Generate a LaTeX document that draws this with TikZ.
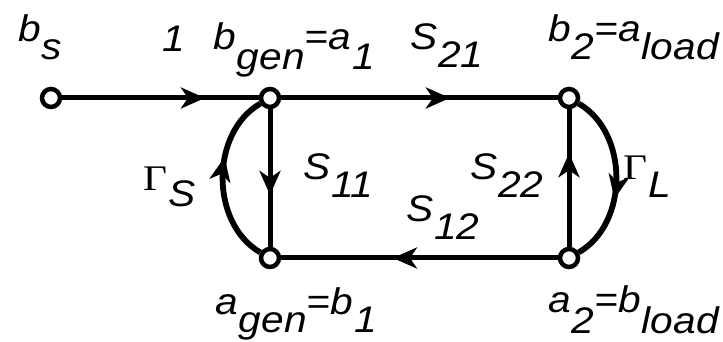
\documentclass[tikz,border=0pt]{standalone}
\usepackage{fontspec}
\setmainfont{Liberation Sans}[FakeStretch=1.1]
\newfontfamily\gamfont{Liberation Serif}[FakeStretch=1.15]
\usetikzlibrary{arrows.meta,decorations.markings}
\newcommand\sbx[2][18pt]{\kern1pt\raisebox{-#1}{#2}}
\begin{document}
\begin{tikzpicture}[x=1pt,y=1pt,
  sig/.style={circle, draw, fill=white, line width=4.5pt, minimum size=18pt, inner sep=0pt},
  lab/.style={anchor=base west, inner sep=0pt, font=\fontsize{37}{40}\selectfont\itshape},
  glab/.style={anchor=base west, inner sep=0pt, font=\fontsize{36}{40}\selectfont\gamfont},
  branch/.style={line width=5pt},
  loopb/.style={line width=5.8pt},
  midarr/.style={postaction={decorate}, decoration={markings,
     mark=at position #1 with {\arrow{Stealth[length=24pt,width=21pt,inset=7pt]}}}}]
\useasboundingbox (0,0) rectangle (723,342);
% signal nodes
\node[sig] (bs)   at (51,244) {};
\node[sig] (bgen) at (270,244) {};
\node[sig] (b2)   at (569,244) {};
\node[sig] (agen) at (270,84) {};
\node[sig] (a2)   at (569,84) {};
% branches
\draw[branch, midarr=0.726] (bs) -- (bgen);
\draw[branch, midarr=0.61] (bgen) -- (b2);
\draw[branch, midarr=0.623] (bgen) -- (agen);
\draw[branch, midarr=0.68] (a2) -- (b2);
\draw[branch, midarr=0.596] (a2) -- (agen);
\draw[loopb, midarr=0.62] (agen) to[bend left=60] (bgen);
\draw[loopb, midarr=0.62] (b2) to[bend left=60] (a2);
% labels
\node[lab] (lbs) at (18,300) {b\sbx{s}};
\node[lab] (l1) at (162,290) {1};
\node[lab] (lbgen) at (213,292) {b\sbx[20pt]{gen}=a\sbx[20pt]{1}};
\node[lab] (ls21) at (410,292) {S\sbx{21}};
\node[lab] (lb2) at (548,300) {b\sbx{2}=a\sbx{load}};
\node[glab] (lgs) at (143,151) {Γ\sbx[16pt]{\fontsize{37}{40}\selectfont\normalfont\itshape S}};
\node[lab] (ls11) at (303,162) {S\sbx{11}};
\node[lab] (ls22) at (470,162) {S\sbx{22}};
\node[glab] (lgl) at (623,162) {Γ\sbx{\fontsize{37}{40}\selectfont\normalfont\itshape L}};
\node[lab] (ls12) at (406,120) {S\sbx{12}};
\node[lab] (lagen) at (215,27) {a\sbx{gen}=b\sbx{1}};
\node[lab] (la2) at (548,29) {a\sbx[21pt]{2}=b\sbx[21pt]{load}};
\end{tikzpicture}
\end{document}
